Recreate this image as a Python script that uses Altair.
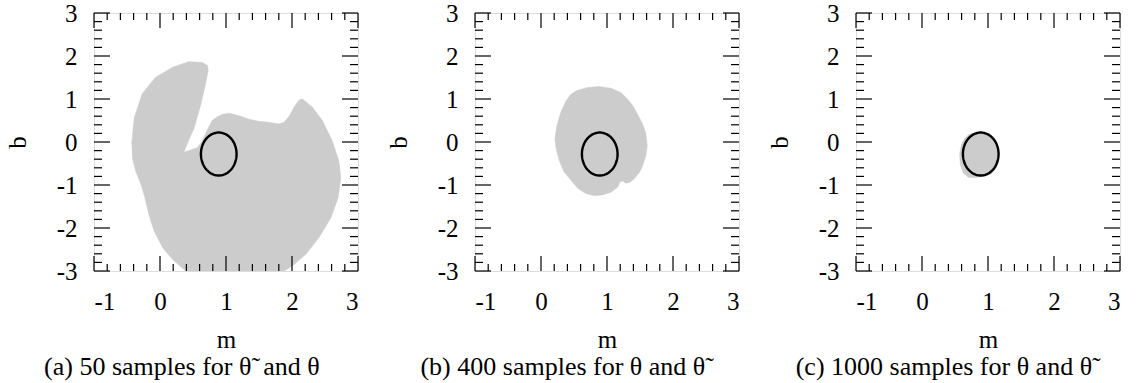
import altair as alt
import numpy as np
import pandas as pd

FONT = "Liberation Serif"
CAP_FONT = "Liberation Serif, Noto Sans"
GRAY = "#cccccc"
W, H = 264, 258

X_DOMAIN = [-1, 3]
Y_DOMAIN = [-3, 3]
x_major = [-1, 0, 1, 2, 3]
y_major = [-3, -2, -1, 0, 1, 2, 3]
x_minor = [-0.8, -0.6, -0.4, -0.2, 0.2, 0.4, 0.6, 0.8, 1.2, 1.4, 1.6, 1.8,
           2.2, 2.4, 2.6, 2.8]
y_minor = [-2.8, -2.6, -2.4, -2.2, -1.8, -1.6, -1.4, -1.2, -0.8, -0.6, -0.4, -0.2,
           0.2, 0.4, 0.6, 0.8, 1.2, 1.4, 1.6, 1.8, 2.2, 2.4, 2.6, 2.8]

# region boundary (m, b) for panel (a): 50 samples
region_a_m = [-0.43, -0.39, -0.27, -0.07, 0.19, 0.44, 0.64, 0.72, 0.73, 0.69, 0.62, 0.52,
              0.41, 0.36, 0.44, 0.57, 0.64, 0.71, 0.79, 0.87, 0.94, 1.05, 1.20, 1.35,
              1.50, 1.65, 1.80, 1.88, 1.96, 2.03, 2.11, 2.16, 2.31, 2.46, 2.61, 2.71,
              2.74, 2.70, 2.59, 2.41, 2.21, 2.01, 1.88, 0.39, 0.19, 0.04, -0.09, -0.17,
              -0.23, -0.29, -0.37, -0.42]
region_a_b = [-0.05, 0.57, 1.12, 1.50, 1.74, 1.87, 1.85, 1.78, 1.66, 1.35, 0.88, 0.34,
              -0.05, -0.24, -0.20, -0.13, 0.03, 0.26, 0.50, 0.59, 0.64, 0.67, 0.61, 0.53,
              0.48, 0.46, 0.42, 0.46, 0.61, 0.81, 0.98, 1.00, 0.81, 0.50, 0.03, -0.44,
              -0.83, -1.29, -1.76, -2.22, -2.61, -2.88, -3.00, -3.00, -2.73, -2.46, -2.07, -1.68,
              -1.29, -0.98, -0.67, -0.36]

# panel (b): 400 samples
region_b_m = [0.53, 0.71, 0.88, 1.06, 1.21, 1.31, 1.39, 1.46, 1.54, 1.59, 1.61, 1.59,
              1.54, 1.49, 1.41, 1.34, 1.28, 1.25, 1.20, 1.16, 1.06, 0.93, 0.81, 0.68,
              0.56, 0.46, 0.35, 0.28, 0.23, 0.21, 0.24, 0.30, 0.38, 0.46]
region_b_b = [1.19, 1.27, 1.29, 1.25, 1.15, 1.00, 0.85, 0.65, 0.42, 0.19, -0.09, -0.32,
              -0.55, -0.71, -0.86, -0.94, -0.96, -0.91, -0.92, -1.05, -1.17, -1.23, -1.25, -1.20,
              -1.08, -0.90, -0.70, -0.45, -0.16, 0.07, 0.38, 0.69, 0.96, 1.12]

# panel (c): 1000 samples
region_c_m = [0.70, 0.82, 0.95, 1.06, 1.13, 1.15, 1.13, 1.06, 0.95, 0.80, 0.70, 0.62,
              0.58, 0.57, 0.60, 0.65]
region_c_b = [0.17, 0.22, 0.20, 0.11, -0.13, -0.36, -0.59, -0.73, -0.79, -0.83, -0.82, -0.71,
              -0.51, -0.28, -0.05, 0.09]

ellipse_center = (0.89, -0.28)
ellipse_radii = (0.27, 0.50)

captions = ["(a)  50 samples for \u03b8\u0303\u2009 and \u03b8",
            "(b)  400 samples for \u03b8 and \u03b8\u0303",
            "(c)  1000 samples for \u03b8 and \u03b8\u0303"]

t = np.linspace(0, 2 * np.pi, 121)
ellipse_df = pd.DataFrame({
    "m": ellipse_center[0] + ellipse_radii[0] * np.cos(t),
    "b": ellipse_center[1] + ellipse_radii[1] * np.sin(t),
    "i": np.arange(len(t)),
})

LABEL_EXPR = "datum.value < 0 ? '-' + abs(datum.value) : '' + datum.value"

XAXIS = alt.Axis(
    values=x_major, labelExpr=LABEL_EXPR, ticks=False, tickSize=0, domain=False,
    grid=False, labelFont=FONT, labelFontSize=25, labelColor="black",
    labelPadding=18, title="m", titleFont=FONT, titleFontSize=25,
    titleFontWeight="normal", titleColor="black", titlePadding=13)
YAXIS = alt.Axis(
    values=y_major, labelExpr=LABEL_EXPR, ticks=False, tickSize=0, domain=False,
    grid=False, labelFont=FONT, labelFontSize=25, labelColor="black",
    labelPadding=17, title="b", titleFont=FONT, titleFontSize=25,
    titleFontWeight="normal", titleColor="black", titlePadding=26)


def panel(ms, bs, caption):
    xs = alt.Scale(domain=X_DOMAIN, nice=False, zero=False)
    ys = alt.Scale(domain=Y_DOMAIN, nice=False, zero=False)
    region = pd.DataFrame({"m": ms, "b": bs, "i": range(len(ms))})
    fill = alt.Chart(region).mark_line(
        filled=True, fill=GRAY, stroke=GRAY, strokeWidth=0.5, clip=True
    ).encode(
        x=alt.X("m:Q", scale=xs, axis=XAXIS),
        y=alt.Y("b:Q", scale=ys, axis=YAXIS),
        order="i:Q",
    )
    ell = alt.Chart(ellipse_df).mark_line(color="black", strokeWidth=2.4).encode(
        x=alt.X("m:Q", scale=xs, axis=XAXIS),
        y=alt.Y("b:Q", scale=ys, axis=YAXIS),
        order="i:Q",
    )
    layers = [fill, ell]
    for vals, big in ((x_major, True), (x_minor, False)):
        L = 15 if big else 7
        d = pd.DataFrame({"m": vals})
        layers.append(alt.Chart(d).mark_rule(color="black", strokeWidth=1.2).encode(
            x=alt.X("m:Q", scale=xs, axis=XAXIS), y=alt.value(H), y2=alt.value(H - L)))
        layers.append(alt.Chart(d).mark_rule(color="black", strokeWidth=1.2).encode(
            x=alt.X("m:Q", scale=xs, axis=XAXIS), y=alt.value(0), y2=alt.value(L)))
    for vals, big in ((y_major, True), (y_minor, False)):
        L = 16 if big else 8
        d = pd.DataFrame({"b": vals})
        layers.append(alt.Chart(d).mark_rule(color="black", strokeWidth=1.2).encode(
            y=alt.Y("b:Q", scale=ys, axis=YAXIS), x=alt.value(0), x2=alt.value(L)))
        layers.append(alt.Chart(d).mark_rule(color="black", strokeWidth=1.2).encode(
            y=alt.Y("b:Q", scale=ys, axis=YAXIS), x=alt.value(W), x2=alt.value(W - L)))
    return alt.layer(*layers).properties(
        width=W, height=H,
        title=alt.Title(caption, orient="bottom", frame="bounds", anchor="middle",
                        font=CAP_FONT, fontSize=26, fontWeight="normal", color="black",
                        offset=2),
    )


chart = alt.hconcat(
    panel(region_a_m, region_a_b, captions[0]),
    panel(region_b_m, region_b_b, captions[1]),
    panel(region_c_m, region_c_b, captions[2]),
    spacing=117, bounds="flush",
).properties(
    padding={"left": 4, "top": 0, "right": 5, "bottom": 0}
).configure_view(
    stroke="black", strokeWidth=2
).configure(background="white")

chart.save("out.html", embed_options={"renderer": "svg", "actions": False})
